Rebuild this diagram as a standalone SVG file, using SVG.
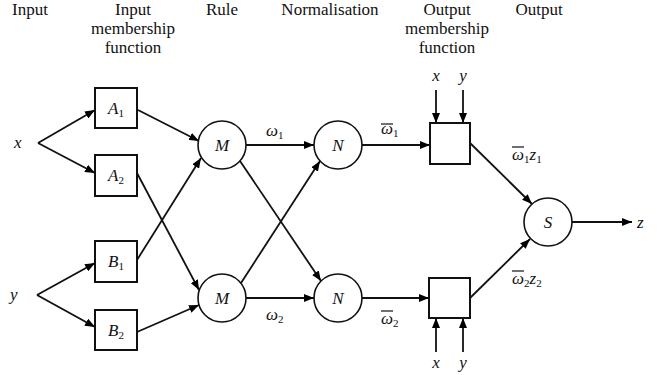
<svg xmlns="http://www.w3.org/2000/svg" width="661" height="375" viewBox="0 0 661 375">
<defs>
<marker id="ah" viewBox="0 0 10 8" refX="10" refY="4" markerWidth="10" markerHeight="8" markerUnits="userSpaceOnUse" orient="auto">
<path d="M0,0 L10,4 L0,8 Z" fill="#000"/>
</marker>
</defs>
<style>
text{font-family:"Liberation Serif","Times New Roman",serif;fill:#111}
.h{font-size:17px;text-anchor:middle}
.v{font-size:17px;font-style:italic}
.n{font-size:17px;font-style:italic;text-anchor:middle}
.s{font-size:11px;font-style:normal}
.box{fill:#fff;stroke:#111;stroke-width:2}
.c{fill:#fff;stroke:#111;stroke-width:1.6}
.e{stroke:#111;stroke-width:1.8;fill:none;marker-end:url(#ah)}
.bar{stroke:#111;stroke-width:1.2}
</style>
<rect width="661" height="375" fill="#fff"/>
<g id="headers">
<text class="h" x="30" y="15">Input</text>
<text class="h" x="133" y="15">Input</text>
<text class="h" x="133" y="34">membership</text>
<text class="h" x="133" y="53">function</text>
<text class="h" x="222" y="15">Rule</text>
<text class="h" x="330" y="15">Normalisation</text>
<text class="h" x="447" y="15">Output</text>
<text class="h" x="447" y="34">membership</text>
<text class="h" x="447" y="53">function</text>
<text class="h" x="539" y="15">Output</text>
</g>
<g id="connectors">
<line class="e" x1="38" y1="143" x2="95" y2="110"/>
<line class="e" x1="38" y1="143" x2="95" y2="173"/>
<line class="e" x1="37" y1="295" x2="95" y2="263"/>
<line class="e" x1="37" y1="295" x2="95" y2="327"/>
<line class="e" x1="138" y1="110" x2="199" y2="141"/>
<line class="e" x1="137" y1="260" x2="201" y2="158"/>
<line class="e" x1="137" y1="173" x2="199" y2="290"/>
<line class="e" x1="137" y1="332" x2="199" y2="305"/>
<line class="e" x1="246" y1="145" x2="314" y2="145"/>
<line class="e" x1="246" y1="298" x2="314" y2="298"/>
<line class="e" x1="240" y1="161" x2="321" y2="281"/>
<line class="e" x1="241" y1="283" x2="320" y2="161"/>
<line class="e" x1="362" y1="145" x2="430" y2="145"/>
<line class="e" x1="362" y1="298" x2="429" y2="298"/>
<line class="e" x1="470" y1="143" x2="532" y2="204"/>
<line class="e" x1="470" y1="298" x2="530" y2="239"/>
<line class="e" x1="572" y1="222" x2="632" y2="222"/>
<line class="e" x1="436" y1="90" x2="436" y2="123"/>
<line class="e" x1="463" y1="90" x2="463" y2="123"/>
<line class="e" x1="436" y1="352" x2="436" y2="318"/>
<line class="e" x1="463" y1="352" x2="463" y2="318"/>
</g>
<g id="labels">
<text class="v" x="14" y="148">x</text>
<text class="v" x="10" y="300">y</text>
<text class="v" x="637" y="228">z</text>
<text class="n" x="436" y="81">x</text>
<text class="n" x="463" y="81">y</text>
<text class="n" x="436" y="368">x</text>
<text class="n" x="463" y="368">y</text>
<text class="v" x="266" y="136">ω<tspan class="s" dy="3">1</tspan></text>
<text class="v" x="266" y="320">ω<tspan class="s" dy="3">2</tspan></text>
<text class="v" x="381" y="134">ω<tspan class="s" dy="3">1</tspan></text>
<line class="bar" x1="381" y1="124" x2="393" y2="124"/>
<text class="v" x="381" y="324">ω<tspan class="s" dy="3">2</tspan></text>
<line class="bar" x1="381" y1="311" x2="393" y2="311"/>
<text class="v" x="512" y="160">ω<tspan class="s" dy="3">1</tspan><tspan dy="-3">z</tspan><tspan class="s" dy="3">1</tspan></text>
<line class="bar" x1="512" y1="147" x2="524" y2="147"/>
<text class="v" x="512" y="284">ω<tspan class="s" dy="3">2</tspan><tspan dy="-3">z</tspan><tspan class="s" dy="3">2</tspan></text>
<line class="bar" x1="512" y1="271" x2="524" y2="271"/>
</g>
<g id="A1"><rect class="box" x="95" y="88" width="42" height="40"/><text class="n" x="116" y="114">A<tspan class="s" dy="3">1</tspan></text></g>
<g id="A2"><rect class="box" x="95" y="155" width="42" height="41"/><text class="n" x="116" y="181">A<tspan class="s" dy="3">2</tspan></text></g>
<g id="B1"><rect class="box" x="95" y="241" width="42" height="41"/><text class="n" x="116" y="267">B<tspan class="s" dy="3">1</tspan></text></g>
<g id="B2"><rect class="box" x="95" y="310" width="42" height="40"/><text class="n" x="116" y="336">B<tspan class="s" dy="3">2</tspan></text></g>
<g id="M1"><circle class="c" cx="222" cy="145" r="24"/><text class="n" x="222" y="151">M</text></g>
<g id="M2"><circle class="c" cx="222" cy="298" r="24"/><text class="n" x="222" y="304">M</text></g>
<g id="N1"><circle class="c" cx="338" cy="145" r="24"/><text class="n" x="338" y="151">N</text></g>
<g id="N2"><circle class="c" cx="338" cy="298" r="24"/><text class="n" x="338" y="304">N</text></g>
<g id="O1"><rect class="box" x="430" y="123" width="40" height="41"/></g>
<g id="O2"><rect class="box" x="429" y="278" width="41" height="40"/></g>
<g id="S"><circle class="c" cx="548" cy="222" r="24"/><text class="n" x="548" y="228">S</text></g>
</svg>
